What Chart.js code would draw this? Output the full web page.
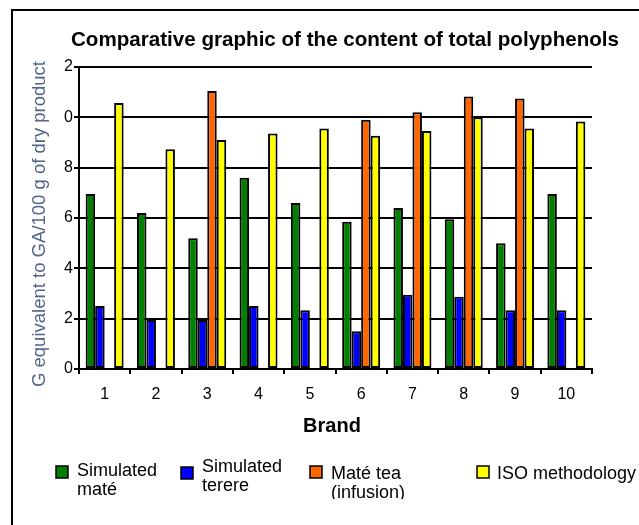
<!DOCTYPE html>
<html>
<head>
<meta charset="utf-8">
<script src="https://cdn.jsdelivr.net/npm/chart.js@4/dist/chart.umd.min.js"></script>
<style>
    html, body { margin: 0; padding: 0; background: #fff; }
    #wrap { position: relative; width: 639px; height: 525px; }
</style>
</head>
<body>
<div id="wrap"><canvas id="chart" width="639" height="525"></canvas></div>
<script>
const brands = ['1', '2', '3', '4', '5', '6', '7', '8', '9', '10'];
const yTickLabels = ['0', '2', '4', '6', '8', '0', '2'];

const simulatedMate = [6.95, 6.2, 5.2, 7.6, 6.6, 5.85, 6.4, 5.95, 5.0, 6.95];
const simulatedTerere = [2.5, 1.95, 1.95, 2.5, 2.33, 1.5, 2.95, 2.87, 2.33, 2.33];
const mateTea = [null, null, 11.05, null, null, 9.9, 10.2, 10.83, 10.75, null];
const isoMethod = [10.57, 8.73, 9.1, 9.36, 9.56, 9.27, 9.46, 10.0, 9.56, 9.83];

const seriesNames = [['Simulated', 'maté'], ['Simulated', 'terere'], ['Maté tea', '(infusion)'], ['ISO methodology']];
const seriesColors = ['#007f00', '#0000ff', '#ff6600', '#ffff00'];

const FONT = '"Liberation Sans", Arial, sans-serif';

// legend boxes: x, y of square, text x, first baseline
const legendSpots = [
    { bx: 56, by: 466, tx: 77, ty: 476 },
    { bx: 181, by: 467, tx: 202, ty: 472 },
    { bx: 310, by: 466, tx: 331, ty: 479 },
    { bx: 477, by: 466, tx: 497, ty: 479 },
];

const decorPlugin = {
    id: 'decor',
    beforeDraw(chart) {
        const ctx = chart.ctx;
        ctx.save();
        ctx.fillStyle = '#fff';
        ctx.fillRect(0, 0, chart.width, chart.height);
        ctx.strokeStyle = '#000';
        ctx.lineWidth = 2;
        ctx.strokeRect(12, 10, 700, 600);
        ctx.restore();
    },
    afterDraw(chart) {
        const ctx = chart.ctx;
        ctx.save();
        ctx.fillStyle = '#000';
        ctx.textAlign = 'center';
        ctx.textBaseline = 'alphabetic';
        ctx.font = 'bold 20.6px ' + FONT;
        ctx.fillText('Comparative graphic of the content of total polyphenols', 345, 46);
        ctx.font = 'bold 20px ' + FONT;
        ctx.fillText('Brand', 332, 432);

        ctx.save();
        ctx.translate(45, 224);
        ctx.rotate(-Math.PI / 2);
        ctx.fillStyle = '#50648c';
        ctx.font = '18.5px ' + FONT;
        ctx.fillText('G equivalent to GA/100 g of dry product', 0, 0);
        ctx.restore();

        ctx.textAlign = 'left';
        ctx.font = '18px ' + FONT;
        seriesNames.forEach((lines, i) => {
            const s = legendSpots[i];
            ctx.fillStyle = seriesColors[i];
            ctx.fillRect(s.bx, s.by, 12, 12);
            ctx.strokeStyle = '#000';
            ctx.lineWidth = 1.5;
            ctx.strokeRect(s.bx, s.by, 12, 12);
            // the second line of the legend is cut off at the bottom in the original
            ctx.save();
            ctx.beginPath();
            ctx.rect(s.tx - 2, s.by - 20, 200, 53);
            ctx.clip();
            ctx.fillStyle = '#000';
            lines.forEach((line, j) => ctx.fillText(line, s.tx, s.ty + j * 19));
            ctx.restore();
        });
        ctx.restore();
    },
};

function makeDataset(label, data, color) {
    return {
        label,
        data,
        backgroundColor: color,
        borderColor: '#000',
        borderWidth: 2,
        borderSkipped: false,
        barPercentage: 1.0,
        categoryPercentage: 0.74,
    };
}

new Chart(document.getElementById('chart'), {
    type: 'bar',
    data: {
        labels: brands,
        datasets: [
            makeDataset(seriesNames[0].join(' '), simulatedMate, seriesColors[0]),
            makeDataset(seriesNames[1].join(' '), simulatedTerere, seriesColors[1]),
            makeDataset(seriesNames[2].join(' '), mateTea, seriesColors[2]),
            makeDataset(seriesNames[3].join(' '), isoMethod, seriesColors[3]),
        ],
    },
    options: {
        responsive: false,
        animation: false,
        layout: { padding: { top: 67, right: 47, left: 0, bottom: 0 } },
        plugins: {
            legend: { display: false },
            title: { display: false },
            tooltip: { enabled: false },
        },
        scales: {
            x: {
                afterFit: (scale) => { scale.height = 156; },
                grid: { offset: true, drawOnChartArea: false, color: '#000', lineWidth: 2, tickLength: 5 },
                border: { display: true, color: '#000', width: 2 },
                ticks: { color: '#000', font: { family: FONT, size: 16 }, padding: 11 },
            },
            y: {
                min: 0,
                max: 12,
                afterFit: (scale) => { scale.width = 79; },
                grid: { color: '#000', lineWidth: 2, tickLength: 5 },
                border: { display: true, color: '#000', width: 2 },
                ticks: {
                    stepSize: 2,
                    color: '#000',
                    padding: 1,
                    font: { family: FONT, size: 16 },
                    callback: (value, index) => yTickLabels[index],
                },
            },
        },
    },
    plugins: [decorPlugin],
});
</script>
</body>
</html>
